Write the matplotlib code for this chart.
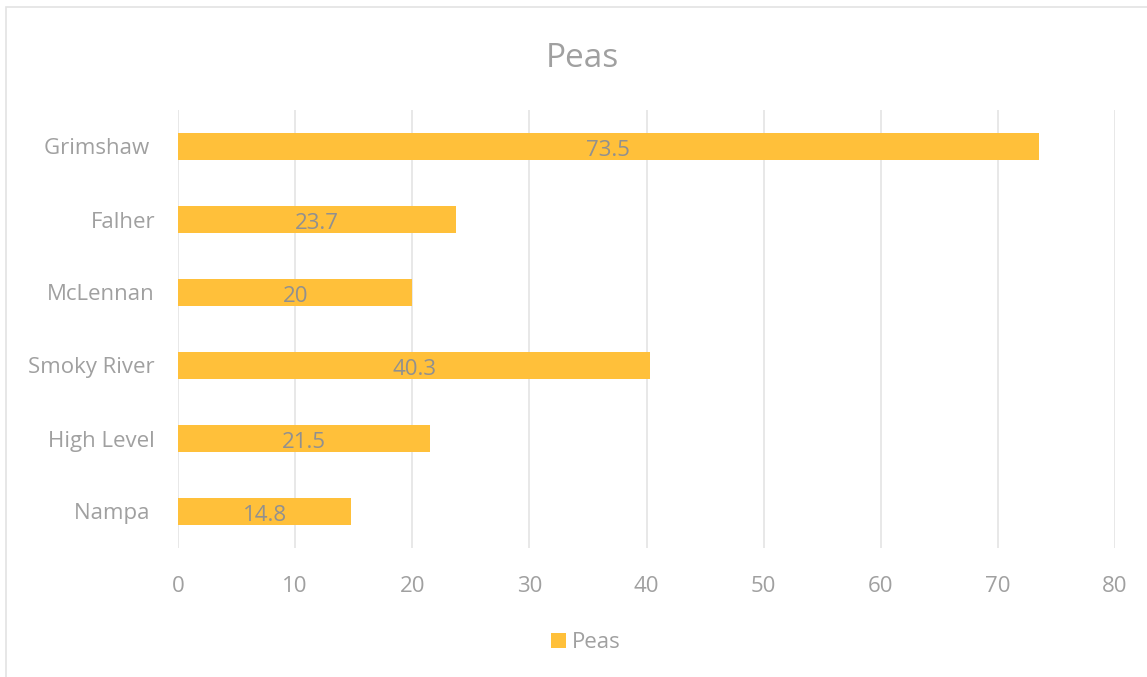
import matplotlib.pyplot as plt
from matplotlib.patches import Rectangle

places = ["Grimshaw ", "Falher", "McLennan", "Smoky River", "High Level", "Nampa "]
peas = [73.5, 23.7, 20, 40.3, 21.5, 14.8]
x_ticks = [0, 10, 20, 30, 40, 50, 60, 70, 80]

bar_color = "#FFC03A"
text_color = "#A0A0A0"
label_color = "#909090"
grid_color = "#E6E6E6"

plt.rcParams['font.family'] = ['Open Sans', 'DejaVu Sans']

fig = plt.figure(figsize=(11.47, 6.77), dpi=100)
fig.patches.append(Rectangle((6 / 1147, -0.1), 1.2, 1 - 7 / 677 + 0.1,
                             transform=fig.transFigure, fill=False,
                             edgecolor="#E3E3E3", linewidth=1.2))

ax = fig.add_axes([178 / 1147, 1 - 548 / 677, 937 / 1147, 438 / 677])

pos = list(range(len(places)))[::-1]
ax.barh(pos, peas, height=0.38, color=bar_color, zorder=2)
for p, v in zip(pos, peas):
    ax.text(v / 2, p - 0.06, f"{v:g}", ha="center", va="center",
            fontsize=16, color=label_color, zorder=3)

ax.set_xlim(0, 80)
ax.set_ylim(-0.5, len(places) - 0.5)
ax.set_xticks(x_ticks)
ax.set_yticks(pos)
ax.set_yticklabels(places)
ax.xaxis.grid(True, color=grid_color, linewidth=1.3, zorder=0)
ax.set_axisbelow(True)
for s in ax.spines.values():
    s.set_visible(False)
ax.tick_params(axis="both", length=0, colors=text_color, labelsize=16)
ax.tick_params(axis="x", pad=20)
ax.tick_params(axis="y", pad=16.5)

ax.set_title("Peas", fontsize=24, color=text_color, pad=31, x=(582 - 178) / 937)

ax.legend(["Peas"], loc="center", bbox_to_anchor=((586 - 178) / 937, -95 / 438),
          frameon=False, handlelength=0.65, handleheight=0.65, handletextpad=0.3,
          fontsize=16, labelcolor=text_color)

fig.savefig("out.png", dpi=100)
